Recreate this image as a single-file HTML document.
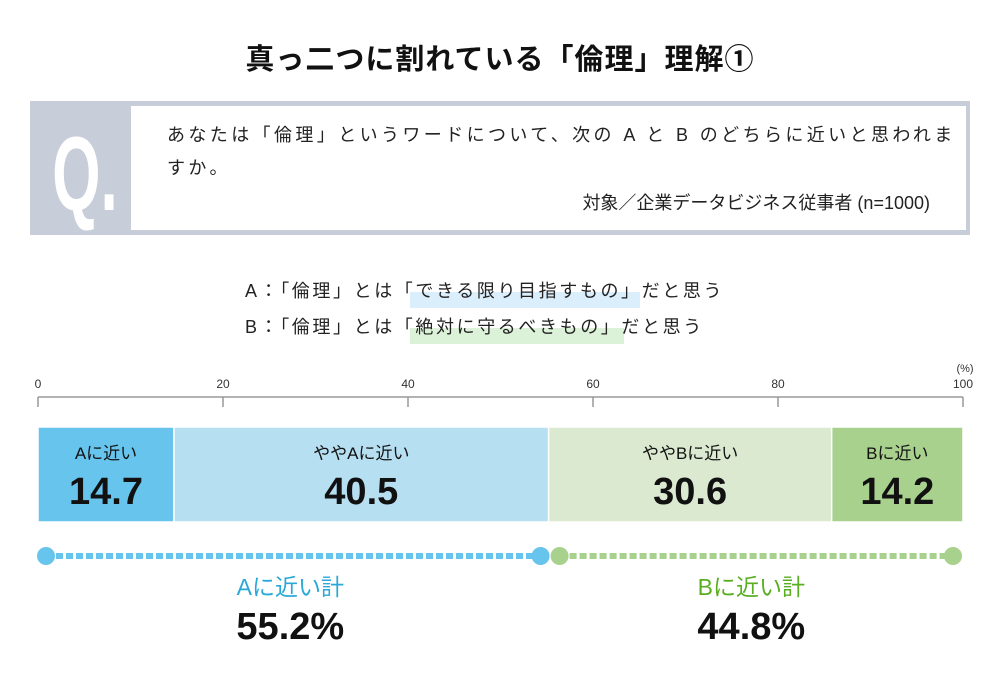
<!DOCTYPE html>
<html><head><meta charset="utf-8"><style>
body{margin:0;background:#fff;width:1000px;height:673px;overflow:hidden;font-family:"Liberation Sans","Noto Sans CJK JP",sans-serif}
svg text{font-family:"Liberation Sans","Noto Sans CJK JP",sans-serif}
</style></head><body>
<svg width="1000" height="673">
<text x="500" y="69" text-anchor="middle" font-size="29" font-weight="bold" fill="#111" letter-spacing="1">真っ二つに割れている「倫理」理解①</text>
<rect x="30" y="101" width="940" height="134" fill="#c8ced9"/>
<rect x="131" y="106" width="835" height="124" fill="#fff"/>
<text x="0" y="0" text-anchor="middle" font-size="100" font-weight="bold" fill="#fff" transform="translate(85,210) scale(0.62,1.05)">Q.</text>
<text x="167" y="141" font-size="18" fill="#222" letter-spacing="3.4">あなたは「倫理」というワードについて、次の A と B のどちらに近いと思われま</text>
<text x="167" y="174" font-size="18" fill="#222" letter-spacing="3.4">すか。</text>
<text x="930" y="209" text-anchor="end" font-size="18" fill="#222">対象／企業データビジネス従事者 (n=1000)</text>
<rect x="410" y="292" width="230" height="16" fill="#dbeefb"/>
<rect x="410" y="328" width="214" height="16" fill="#dcf2d8"/>
<text x="245" y="297" font-size="18" fill="#222" letter-spacing="2.6">A：「倫理」とは「できる限り目指すもの」だと思う</text>
<text x="245" y="333" font-size="18" fill="#222" letter-spacing="2.6">B：「倫理」とは「絶対に守るべきもの」だと思う</text>
<g id="axis"></g>
<g id="bars"></g>
<g id="totals"></g>
</svg>
<script>
const categories=["Aに近い","ややAに近い","ややBに近い","Bに近い"];
const values=[14.7,40.5,30.6,14.2];
const tickValues=[0,20,40,60,80,100];
const totalLabels=["Aに近い計","Bに近い計"];
const totals=[55.2,44.8];
const colors=["#67c5ed","#b6dff2","#dae9d0","#a9d18e"];
const NS="http://www.w3.org/2000/svg";
const X0=38,X1=963;
const x=v=>X0+(X1-X0)*v/100;
function mk(t,a,p,txt){const e=document.createElementNS(NS,t);for(const k in a)e.setAttribute(k,a[k]);if(txt!=null)e.textContent=txt;p.appendChild(e);return e;}
const ax=document.getElementById('axis');
let ln=mk('line',{x1:x(0),x2:x(100),y1:397,y2:397,stroke:'#999','stroke-width':1.5},ax);


tickValues.forEach(v=>{
 const t=mk('line',{x1:x(v),x2:x(v),y1:397,y2:407,stroke:'#999','stroke-width':1.5},ax);
 
 
 const l=mk('text',{x:x(v),y:388,'text-anchor':'middle','font-size':12,fill:'#333'},ax,String(v));
 
 
});
const u=mk('text',{x:x(100)+2,y:372,'text-anchor':'middle','font-size':11,fill:'#333'},ax,'(%)');


const bg=document.getElementById('bars');
let cum=0;
values.forEach((v,i)=>{
 const a=x(cum),b=x(cum+v);cum+=v;
 const r=mk('rect',{x:a,y:427,width:b-a,height:95,fill:colors[i],stroke:'#fff','stroke-width':1.5},bg);
 
 
 const c=(a+b)/2;
 const l=mk('text',{x:c,y:459,'text-anchor':'middle','font-size':17,fill:'#111'},bg,categories[i]);
 
 
 const n=mk('text',{x:c,y:504,'text-anchor':'middle','font-size':38,'font-weight':'bold',fill:'#111'},bg,v.toFixed(1));
 
 
});
const tg=document.getElementById('totals');
const tcol=[["#67c5ed","#29a9d8"],["#a9d18e","#5aae22"]];
let start=0;
totals.forEach((v,i)=>{
 const a=x(start)+(i==0?8:11),b=x(start+v)-(i==0?8:10);start+=v;
 const dl=mk('line',{x1:a,x2:b,y1:556,y2:556,stroke:tcol[i][0],'stroke-width':6,'stroke-dasharray':'7 3'},tg);
 
 
 [a,b].forEach((p,j)=>{const c=mk('circle',{cx:p,cy:556,r:9,fill:tcol[i][0]},tg);
  
  });
 const c=(a+b)/2+(i==0?-3:-5);
 const l=mk('text',{x:c,y:595,'text-anchor':'middle','font-size':23,fill:tcol[i][1]},tg,totalLabels[i]);
 
 
 const n=mk('text',{x:c,y:639,'text-anchor':'middle','font-size':38,'font-weight':'bold',fill:'#111'},tg,v.toFixed(1)+'%');
 
 
});
</script>
</body></html>
